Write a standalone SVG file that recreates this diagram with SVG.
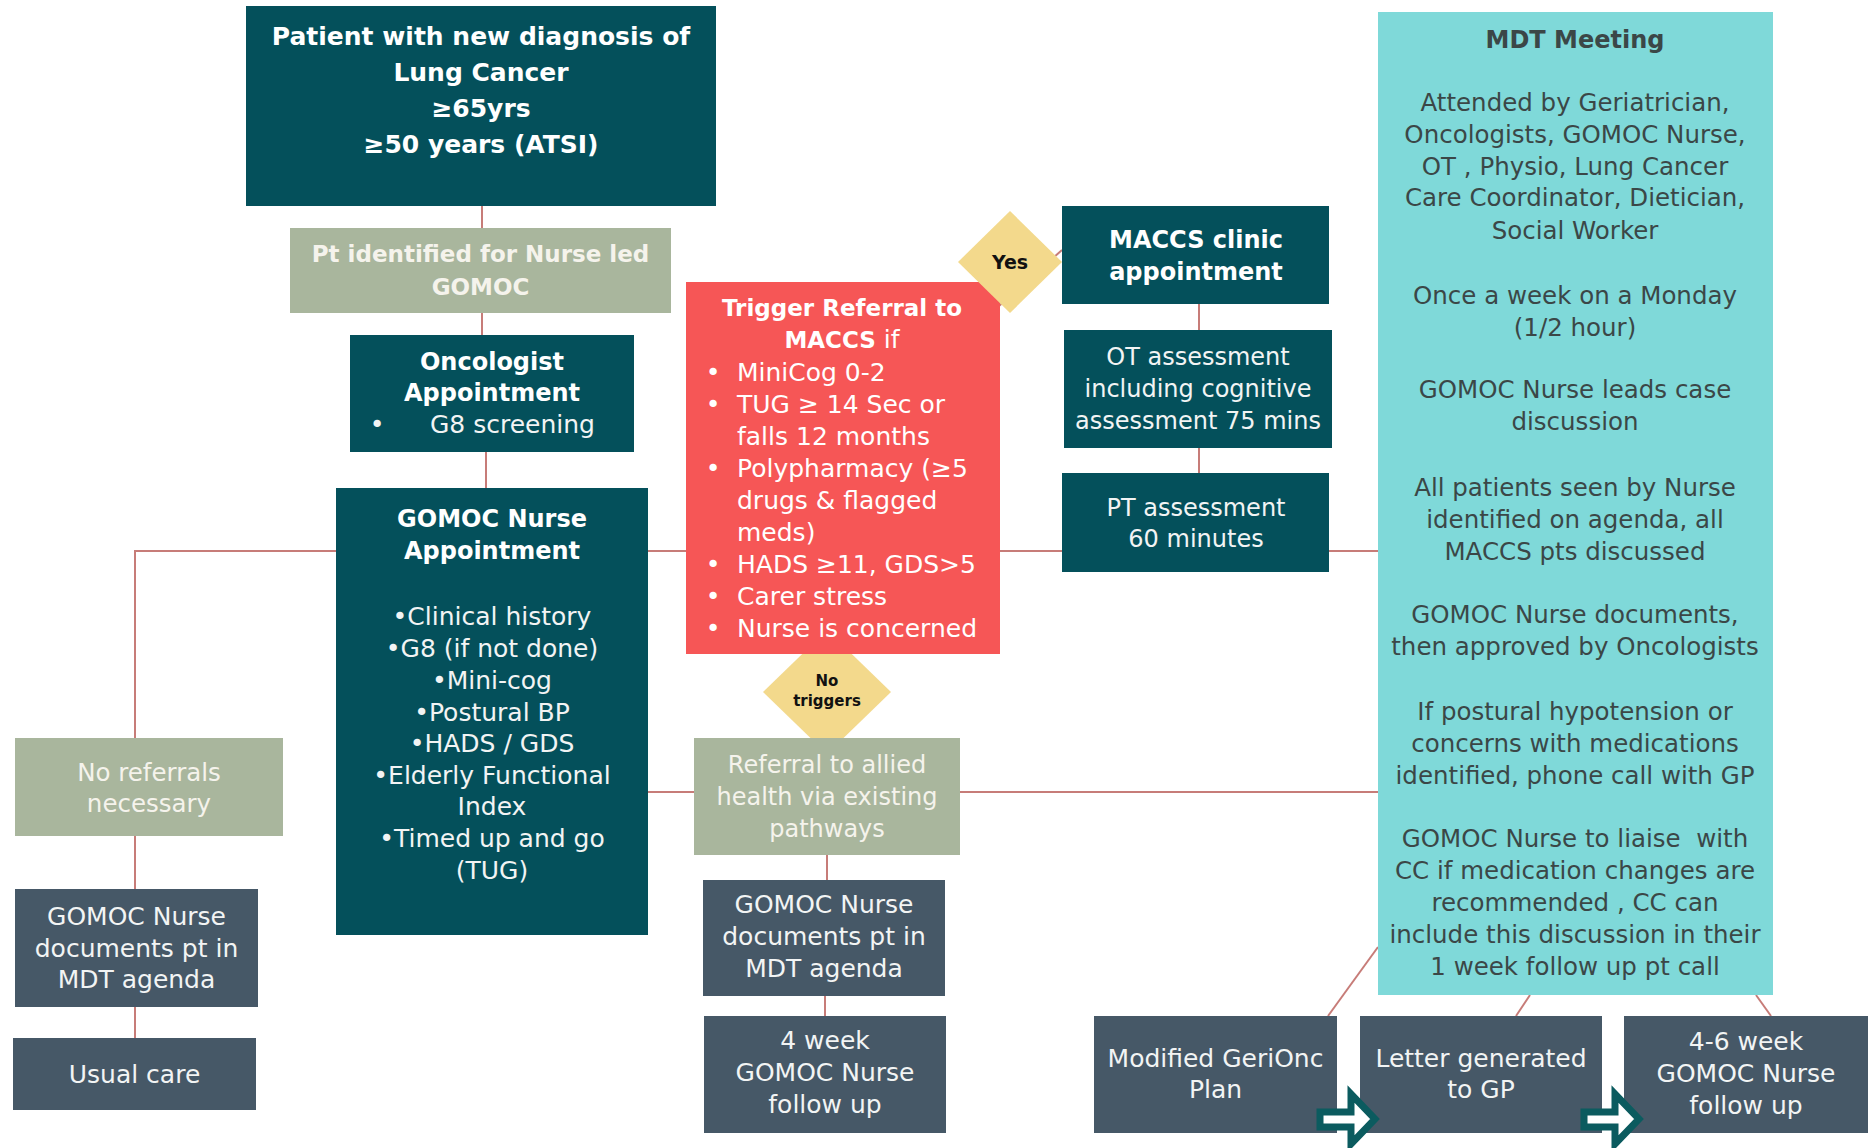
<svg xmlns="http://www.w3.org/2000/svg" width="1875" height="1148" viewBox="0 0 1875 1148">
<style>
text{font-family:"DejaVu Sans","Liberation Sans",sans-serif;text-anchor:middle}
.teal{fill:#04505b}
.slate{fill:#465867}
.sage{fill:#a9b69d}
.red{fill:#f65656}
.dia{fill:#f3d98c}
.mdt{fill:#7fd9d9}
.hb{font-weight:bold;fill:#ffffff}
.tw{fill:#f2f4f4}
.ts{fill:#f5f3ec}
.tm{fill:#3b4747;font-size:24.5px}
.conn line,.conn polyline{stroke:#c77c78;stroke-width:2;fill:none}
.arr{fill:#ffffff;stroke:#0b5b5f;stroke-width:7;stroke-linejoin:miter}
</style>
<rect width="1875" height="1148" fill="#ffffff"/>
<g id="connectors" class="conn">
<line x1="482" y1="206" x2="482" y2="228"/>
<line x1="482" y1="313" x2="482" y2="335"/>
<line x1="486" y1="452" x2="486" y2="488"/>
<polyline points="336,551 135,551 135,738"/>
<line x1="135" y1="836" x2="135" y2="889"/>
<line x1="135" y1="1007" x2="135" y2="1038"/>
<line x1="648" y1="551" x2="1378" y2="551"/>
<line x1="1199" y1="304" x2="1199" y2="330"/>
<line x1="1199" y1="448" x2="1199" y2="473"/>
<line x1="648" y1="792" x2="1378" y2="792"/>
<line x1="827" y1="855" x2="827" y2="880"/>
<line x1="825" y1="996" x2="825" y2="1016"/>
<line x1="999" y1="306" x2="1062" y2="250"/>
<line x1="1378" y1="947" x2="1328" y2="1016"/>
<line x1="1530" y1="995" x2="1516" y2="1016"/>
<line x1="1756" y1="995" x2="1771" y2="1016"/>
</g>
<g id="no-triggers">
<polygon class="dia" points="827,630 891,692 827,754 763,692"/>
<text x="827" y="686" style="font-size:15px;font-weight:bold;fill:#111">No</text>
<text x="827" y="706" style="font-size:15px;font-weight:bold;fill:#111">triggers</text>
</g>
<g id="patient">
<rect class="teal" x="246" y="6" width="470" height="200"/>
<text class="hb" x="481" y="45" font-size="25">Patient with new diagnosis of</text>
<text class="hb" x="481" y="81" font-size="25">Lung Cancer</text>
<text class="hb" x="481" y="117" font-size="25">≥65yrs</text>
<text class="hb" x="481" y="153" font-size="25">≥50 years (ATSI)</text>
</g>
<g id="pt-identified">
<rect class="sage" x="290" y="228" width="381" height="85"/>
<text x="480.5" y="262" font-size="23" font-weight="bold" class="ts">Pt identified for Nurse led</text>
<text x="480.5" y="295" font-size="23" font-weight="bold" class="ts">GOMOC</text>
</g>
<g id="oncologist">
<rect class="teal" x="350" y="335" width="284" height="117"/>
<text class="hb" x="492" y="370" font-size="24">Oncologist</text>
<text class="hb" x="492" y="401" font-size="24">Appointment</text>
<text class="tw" x="377" y="433" font-size="25">•</text>
<text class="tw" x="430" y="433" font-size="25" style="text-anchor:start">G8 screening</text>
</g>
<g id="gomoc-appt">
<rect class="teal" x="336" y="488" width="312" height="447"/>
<text class="hb" x="492" y="527" font-size="24">GOMOC Nurse</text>
<text class="hb" x="492" y="559" font-size="24">Appointment</text>
<g class="tw" font-size="25">
<text x="492" y="625">•Clinical history</text>
<text x="492" y="657">•G8 (if not done)</text>
<text x="492" y="689">•Mini-cog</text>
<text x="492" y="721">•Postural BP</text>
<text x="492" y="752">•HADS / GDS</text>
<text x="492" y="784">•Elderly Functional</text>
<text x="492" y="815">Index</text>
<text x="492" y="847">•Timed up and go</text>
<text x="492" y="879">(TUG)</text>
</g>
</g>
<g id="trigger">
<rect class="red" x="686" y="282" width="314" height="372"/>
<text class="hb" x="842" y="316" font-size="23">Trigger Referral to</text>
<text x="842" y="348" font-size="23" fill="#ffffff"><tspan font-weight="bold">MACCS</tspan><tspan font-size="25"> if</tspan></text>
<g fill="#ffffff" font-size="25">
<text x="713" y="381">•</text><text x="737" y="381" style="text-anchor:start">MiniCog 0-2</text>
<text x="713" y="413">•</text><text x="737" y="413" style="text-anchor:start">TUG ≥ 14 Sec or</text>
<text x="737" y="445" style="text-anchor:start">falls 12 months</text>
<text x="713" y="477">•</text><text x="737" y="477" style="text-anchor:start">Polypharmacy (≥5</text>
<text x="737" y="509" style="text-anchor:start">drugs &amp; flagged</text>
<text x="737" y="541" style="text-anchor:start">meds)</text>
<text x="713" y="573">•</text><text x="737" y="573" style="text-anchor:start">HADS ≥11, GDS&gt;5</text>
<text x="713" y="605">•</text><text x="737" y="605" style="text-anchor:start">Carer stress</text>
<text x="713" y="637">•</text><text x="737" y="637" style="text-anchor:start">Nurse is concerned</text>
</g>
</g>
<g id="yes">
<polygon class="dia" points="1010,211 1062,262 1010,313 958,262"/>
<text x="1010" y="269" style="font-size:19px;font-weight:bold;fill:#111">Yes</text>
</g>
<g id="maccs-clinic">
<rect class="teal" x="1062" y="206" width="267" height="98"/>
<text class="hb" x="1196" y="248" font-size="24">MACCS clinic</text>
<text class="hb" x="1196" y="280" font-size="24">appointment</text>
</g>
<g id="ot">
<rect class="teal" x="1064" y="330" width="268" height="118"/>
<text class="tw" x="1198" y="365" font-size="24">OT assessment</text>
<text class="tw" x="1198" y="397" font-size="24">including cognitive</text>
<text class="tw" x="1198" y="429" font-size="24">assessment 75 mins</text>
</g>
<g id="pt">
<rect class="teal" x="1062" y="473" width="267" height="99"/>
<text class="tw" x="1196" y="516" font-size="24">PT assessment</text>
<text class="tw" x="1196" y="547" font-size="24">60 minutes</text>
</g>
<g id="mdt">
<rect class="mdt" x="1378" y="12" width="395" height="983"/>
<text x="1575" y="48" style="font-size:24px;font-weight:bold;fill:#3b4747">MDT Meeting</text>
<text class="tm" x="1575" y="111">Attended by Geriatrician,</text>
<text class="tm" x="1575" y="143">Oncologists, GOMOC Nurse,</text>
<text class="tm" x="1575" y="175">OT , Physio, Lung Cancer</text>
<text class="tm" x="1575" y="206">Care Coordinator, Dietician,</text>
<text class="tm" x="1575" y="239">Social Worker</text>
<text class="tm" x="1575" y="304">Once a week on a Monday</text>
<text class="tm" x="1575" y="336">(1/2 hour)</text>
<text class="tm" x="1575" y="398">GOMOC Nurse leads case</text>
<text class="tm" x="1575" y="430">discussion</text>
<text class="tm" x="1575" y="496">All patients seen by Nurse</text>
<text class="tm" x="1575" y="528">identified on agenda, all</text>
<text class="tm" x="1575" y="560">MACCS pts discussed</text>
<text class="tm" x="1575" y="623">GOMOC Nurse documents,</text>
<text class="tm" x="1575" y="655">then approved by Oncologists</text>
<text class="tm" x="1575" y="720">If postural hypotension or</text>
<text class="tm" x="1575" y="752">concerns with medications</text>
<text class="tm" x="1575" y="784">identified, phone call with GP</text>
<text class="tm" x="1575" y="847">GOMOC Nurse to liaise&#160; with</text>
<text class="tm" x="1575" y="879">CC if medication changes are</text>
<text class="tm" x="1575" y="911">recommended , CC can</text>
<text class="tm" x="1575" y="943">include this discussion in their</text>
<text class="tm" x="1575" y="975">1 week follow up pt call</text>
</g>
<g id="referral-allied">
<rect class="sage" x="694" y="738" width="266" height="117"/>
<text class="ts" x="827" y="773" font-size="24">Referral to allied</text>
<text class="ts" x="827" y="805" font-size="24">health via existing</text>
<text class="ts" x="827" y="837" font-size="24">pathways</text>
</g>
<g id="doc-mid">
<rect class="slate" x="703" y="880" width="242" height="116"/>
<text class="tw" x="824" y="913" font-size="25">GOMOC Nurse</text>
<text class="tw" x="824" y="945" font-size="25">documents pt in</text>
<text class="tw" x="824" y="977" font-size="25">MDT agenda</text>
</g>
<g id="four-week">
<rect class="slate" x="704" y="1016" width="242" height="117"/>
<text class="tw" x="825" y="1049" font-size="25">4 week</text>
<text class="tw" x="825" y="1081" font-size="25">GOMOC Nurse</text>
<text class="tw" x="825" y="1113" font-size="25">follow up</text>
</g>
<g id="no-referrals">
<rect class="sage" x="15" y="738" width="268" height="98"/>
<text class="ts" x="149" y="781" font-size="24.5">No referrals</text>
<text class="ts" x="149" y="812" font-size="24.5">necessary</text>
</g>
<g id="doc-left">
<rect class="slate" x="15" y="889" width="243" height="118"/>
<text class="tw" x="136.5" y="925" font-size="25">GOMOC Nurse</text>
<text class="tw" x="136.5" y="957" font-size="25">documents pt in</text>
<text class="tw" x="136.5" y="988" font-size="25">MDT agenda</text>
</g>
<g id="usual-care">
<rect class="slate" x="13" y="1038" width="243" height="72"/>
<text class="tw" x="134.5" y="1083" font-size="25">Usual care</text>
</g>
<g id="modified-plan">
<rect class="slate" x="1094" y="1016" width="243" height="117"/>
<text class="tw" x="1215.5" y="1067" font-size="25">Modified GeriOnc</text>
<text class="tw" x="1215.5" y="1098" font-size="25">Plan</text>
</g>
<g id="letter-gp">
<rect class="slate" x="1360" y="1016" width="242" height="117"/>
<text class="tw" x="1481" y="1067" font-size="25">Letter generated</text>
<text class="tw" x="1481" y="1098" font-size="25">to GP</text>
</g>
<g id="followup-4-6">
<rect class="slate" x="1624" y="1016" width="244" height="117"/>
<text class="tw" x="1746" y="1050" font-size="25">4-6 week</text>
<text class="tw" x="1746" y="1082" font-size="25">GOMOC Nurse</text>
<text class="tw" x="1746" y="1114" font-size="25">follow up</text>
</g>
<g id="arrow-1">
<polygon class="arr" points="1320,1112 1351,1112 1351,1094 1375,1119 1351,1144 1351,1127 1320,1127"/>
</g>
<g id="arrow-2">
<polygon class="arr" points="1584,1112 1615,1112 1615,1094 1639,1119 1615,1144 1615,1127 1584,1127"/>
</g>
</svg>
